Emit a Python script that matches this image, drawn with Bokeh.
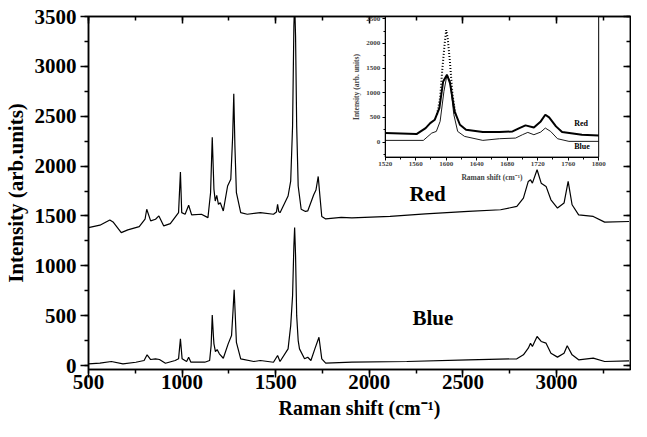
from bokeh.plotting import figure
from bokeh.models import Range1d, LinearAxis, SingleIntervalTicker, Label
from bokeh.embed import file_html
from bokeh.resources import INLINE

# ---------------- data ----------------
red_x = [500, 561, 614, 631, 675, 710, 771, 802, 811, 832, 858, 876, 902, 937, 981, 991, 998, 1016,
         1035, 1051, 1103, 1138, 1152, 1161, 1170, 1177, 1185, 1194, 1204, 1220, 1243, 1260, 1270,
         1276, 1282, 1290, 1313, 1348, 1418, 1488, 1504, 1510, 1516, 1523, 1566, 1580, 1590, 1597,
         1601, 1606, 1612, 1620, 1636, 1659, 1671, 1703, 1715, 1727, 1736, 1746, 1767, 1850, 1907,
         2111, 2300, 2528, 2701, 2788, 2823, 2849, 2861, 2871, 2896, 2918, 2944, 2970, 3005, 3040,
         3062, 3083, 3118, 3196, 3257, 3387]
red_y = [1383, 1407, 1460, 1440, 1333, 1360, 1393, 1467, 1567, 1450, 1467, 1500, 1400, 1423, 1533, 1940,
         1533, 1517, 1607, 1510, 1517, 1483, 1733, 2290, 1767, 1650, 1707, 1617, 1633, 1550, 1800, 1867,
         2300, 2725, 2200, 1733, 1533, 1517, 1533, 1517, 1540, 1617, 1545, 1533, 1700, 1850, 2400, 3400,
         3650, 3300, 2400, 1800, 1567, 1545, 1550, 1712, 1760, 1896, 1700, 1495, 1470, 1485, 1480,
         1495, 1520, 1545, 1562, 1595, 1679, 1846, 1862, 1829, 1963, 1829, 1796, 1662, 1579, 1629,
         1846, 1612, 1511, 1495, 1438, 1444]

blue_x = [500, 561, 622, 684, 753, 797, 813, 832, 858, 879, 911, 963, 981, 991, 1000, 1024, 1035, 1047,
          1121, 1147, 1155, 1161, 1167, 1170, 1178, 1187, 1199, 1220, 1246, 1264, 1272, 1278, 1284,
          1290, 1313, 1383, 1418, 1488, 1510, 1523, 1566, 1580, 1590, 1597, 1601, 1606, 1612, 1620,
          1627, 1654, 1671, 1688, 1709, 1731, 1746, 1767, 1907, 2200, 2528, 2788, 2823, 2849, 2861,
          2871, 2896, 2918, 2944, 2970, 3005, 3040, 3057, 3083, 3118, 3196, 3257, 3387]
blue_y = [17, 23, 40, 17, 33, 50, 107, 60, 67, 60, 23, 50, 67, 267, 67, 40, 83, 33,
          33, 50, 200, 507, 300, 217, 140, 160, 117, 73, 217, 300, 550, 760, 500,
          233, 67, 40, 50, 33, 100, 40, 167, 400, 700, 1200, 1383, 1100, 500, 250,
          167, 67, 83, 50, 167, 283, 67, 23, 33, 40, 57, 67, 107, 174, 224,
          191, 291, 241, 224, 124, 84, 124, 198, 107, 57, 74, 40, 47]

# inset data (1520-1800 cm-1)
in_red_x = [1520, 1561, 1573, 1579, 1585, 1591, 1596, 1601, 1605, 1611, 1618, 1626, 1648, 1670, 1687,
            1696, 1704, 1715, 1724, 1730, 1735, 1744, 1752, 1778, 1800]
in_red_y = [182, 162, 284, 385, 453, 689, 1230, 1365, 1196, 622, 351, 250, 203, 203, 216,
            284, 338, 297, 419, 554, 500, 318, 203, 149, 135]
in_red_peak_x = [1588, 1592, 1595, 1598, 1600, 1602, 1605, 1608, 1612]
in_red_peak_y = [560, 900, 1500, 2000, 2270, 2100, 1600, 1000, 560]
in_blue_x = [1520, 1570, 1576, 1581, 1587, 1592, 1597, 1601, 1605, 1610, 1615, 1624, 1648, 1670, 1691,
             1700, 1707, 1715, 1724, 1730, 1737, 1746, 1761, 1800]
in_blue_y = [34, 34, 115, 182, 216, 419, 1027, 1365, 1230, 554, 216, 115, 34, 68, 81,
             149, 196, 149, 203, 284, 216, 68, 14, 14]

# ---------------- layout constants ----------------
X0, X1 = 500, 3395
Y0, Y1 = -40, 3500
IN_X0, IN_X1 = 1520, 1800
IN_Y0, IN_Y1 = -305, 2546
BOX_L, BOX_R, BOX_B, BOX_T = 2085, 3225, 2090, 3500   # inset box in main data units

FONT = "Liberation Serif"

p = figure(width=631, height=421, x_range=Range1d(X0, X1), y_range=Range1d(Y0, Y1),
           output_backend="svg", toolbar_location=None,
           min_border_left=80, min_border_right=1, min_border_top=16, min_border_bottom=50)
p.grid.grid_line_color = None
p.outline_line_color = "black"
p.outline_line_width = 1.5
p.background_fill_color = "white"

def style_main(ax, label):
    ax.ticker = SingleIntervalTicker(interval=500, num_minor_ticks=2)
    ax.axis_label = label
    ax.major_tick_out = 8
    ax.major_tick_in = 0
    ax.minor_tick_out = 4
    ax.minor_tick_in = 0
    ax.axis_line_width = 1.5
    ax.major_tick_line_width = 1.5
    ax.minor_tick_line_width = 1.5
    ax.major_label_text_font = FONT
    ax.major_label_text_font_size = "21px"
    ax.major_label_text_font_style = "bold"
    ax.major_label_text_color = "black"
    ax.axis_label_text_font = FONT
    ax.axis_label_text_font_size = "20px"
    ax.axis_label_text_font_style = "bold"
    ax.axis_label_text_color = "black"

style_main(p.xaxis[0], "Raman shift (cm\u207b\u00b9)")
style_main(p.yaxis[0], "Intensity (arb.units)")
p.xaxis[0].major_label_standoff = -3
p.xaxis[0].axis_label_standoff = 5
p.yaxis[0].major_label_standoff = 4
p.yaxis[0].axis_label_standoff = 4
p.yaxis[0].axis_label_text_font_size = "21px"

# mirrored tick marks on top and right (no labels)
for side in ["above", "right"]:
    ax = LinearAxis(ticker=SingleIntervalTicker(interval=500, num_minor_ticks=2),
                    major_tick_in=7, major_tick_out=0, minor_tick_in=4, minor_tick_out=0,
                    axis_line_width=1.5, major_tick_line_width=1.5, minor_tick_line_width=1.5,
                    major_label_text_font_size="1px", major_label_text_color=None,
                    major_label_standoff=0)
    p.add_layout(ax, side)

# main spectra
p.line(red_x, red_y, line_color="black", line_width=1.2)
p.line(blue_x, blue_y, line_color="black", line_width=1.2)

p.add_layout(Label(x=2215, y=1720, text="Red", text_font=FONT, text_font_size="21px",
                   text_font_style="bold", text_color="black", text_baseline="middle"))
p.add_layout(Label(x=2230, y=475, text="Blue", text_font=FONT, text_font_size="21px",
                   text_font_style="bold", text_color="black", text_baseline="middle"))

# inset ranges: map inset data onto its box inside the main frame
def to_inset(v, a0, a1, b0, b1):
    return b0 + (v - a0) * (b1 - b0) / (a1 - a0)

p.extra_x_ranges = {"ix": Range1d(to_inset(X0, BOX_L, BOX_R, IN_X0, IN_X1),
                                  to_inset(X1, BOX_L, BOX_R, IN_X0, IN_X1))}
p.extra_y_ranges = {"iy": Range1d(to_inset(Y0, BOX_B, BOX_T, IN_Y0, IN_Y1),
                                  to_inset(Y1, BOX_B, BOX_T, IN_Y0, IN_Y1))}

p.quad(left=[IN_X0], right=[IN_X1], bottom=[IN_Y0], top=[IN_Y1], x_range_name="ix", y_range_name="iy",
       fill_color="white", line_color="black", line_width=1)
p.line(in_blue_x, in_blue_y, x_range_name="ix", y_range_name="iy", line_color="black", line_width=0.9)
p.line(in_red_x, in_red_y, x_range_name="ix", y_range_name="iy", line_color="black", line_width=2)
p.line(in_red_peak_x, in_red_peak_y, x_range_name="ix", y_range_name="iy", line_color="black",
       line_width=2, line_dash="1 2")

def style_inset(ax, label):
    ax.axis_label = label
    ax.major_tick_out = 3
    ax.major_tick_in = 0
    ax.minor_tick_out = 2
    ax.minor_tick_in = 0
    ax.axis_line_width = 1
    ax.major_label_text_font = FONT
    ax.major_label_text_font_size = "7px"
    ax.major_label_text_font_style = "bold"
    ax.axis_label_text_font = FONT
    ax.axis_label_text_font_size = "7.5px"
    ax.axis_label_text_font_style = "bold"
    ax.major_label_standoff = 2
    ax.axis_label_standoff = 3

iax = LinearAxis(x_range_name="ix", y_range_name="iy", fixed_location=IN_Y0, bounds=(IN_X0, IN_X1),
                 ticker=SingleIntervalTicker(interval=40, num_minor_ticks=2))
style_inset(iax, "Raman shift (cm\u207b\u00b9)")
p.add_layout(iax, "below")

iay = LinearAxis(x_range_name="ix", y_range_name="iy", fixed_location=IN_X0, bounds=(IN_Y0, IN_Y1),
                 ticker=SingleIntervalTicker(interval=500, num_minor_ticks=2))
style_inset(iay, "Intensity (arb. units)")
p.add_layout(iay, "left")

p.add_layout(Label(x=1768, y=284, x_range_name="ix", y_range_name="iy", text="Red", text_font=FONT,
                   text_font_size="8px", text_font_style="bold", text_color="black"))
p.add_layout(Label(x=1768, y=-176, x_range_name="ix", y_range_name="iy", text="Blue", text_font=FONT,
                   text_font_size="8px", text_font_style="bold", text_color="black"))

open("out.html", "w").write(file_html(p, INLINE))
